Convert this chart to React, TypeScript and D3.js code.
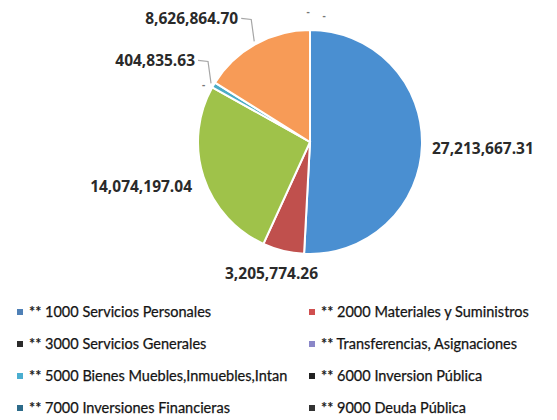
import React from "react";
import * as d3 from "d3";

const categories = [
  "** 1000 Servicios Personales",
  "** 2000 Materiales y Suministros",
  "** 3000 Servicios Generales",
  "** Transferencias, Asignaciones",
  "** 5000 Bienes Muebles,Inmuebles,Intan",
  "** 6000 Inversion Pública",
  "** 7000 Inversiones Financieras",
  "** 9000 Deuda Pública",
];
const values = [27213667.31, 3205774.26, 14074197.04, 0, 404835.63, 8626864.7, 0, 0];
const sliceColors = ["#4a8fd1", "#c0504d", "#9fc24a", "#8064a2", "#4bacc6", "#f79b57", "#2c6d8c", "#333333"];
const legendColors = ["#4f80b6", "#d04f4f", "#2b2b2b", "#8a87c8", "#4aaed0", "#222222", "#2d6b8a", "#333333"];

const W = 557;
const H = 420;
const cx = 310;
const cy = 142;
const R = 112;

// label layout tweaks (not data)
const labelExtra = [10, 24, 10, 10, 0, 0, 8, 8];
const labelNudge: [number, number][] = [
  [0, 3],
  [-6, 0],
  [-2, 7],
  [0, 2],
  [0, 0],
  [0, 0],
  [-2, -11],
  [14, -7],
];

const fmt = (v: number) => (v === 0 ? "-" : d3.format(",.2f")(v));

export default function App() {
  const pie = d3.pie<number>().sort(null).value((d) => d);
  const arcs = pie(values);
  const arc = d3.arc<d3.PieArcDatum<number>>().innerRadius(0).outerRadius(R);

  const pt = (a: number, r: number) => [cx + r * Math.sin(a), cy - r * Math.cos(a)];

  const labels = arcs.map((a, i) => {
    const mid = (a.startAngle + a.endAngle) / 2;
    const v = values[i];
    if (i === 4 || i === 5) {
      const [ex, ey] = pt(mid, R + 3);
      const lx = ex - 16;
      const ly = ey - 23;
      return {
        i,
        x: lx,
        y: ly,
        anchor: "end",
        text: fmt(v),
        leader: [
          [ex, ey],
          [ex - 3, ly + 1],
          [lx + 3, ly],
        ],
      };
    }
    const [x, y] = pt(mid, R + labelExtra[i]);
    let anchor = "middle";
    const s = Math.sin(mid);
    if (v !== 0) {
      if (s > 0.5) anchor = "start";
      else if (s < -0.5) anchor = "end";
    }
    return {
      i,
      x: x + labelNudge[i][0],
      y: y + labelNudge[i][1],
      anchor,
      text: fmt(v),
      leader: null as null | number[][],
    };
  });

  const legendX = [20, 312];
  const legendY = [312, 344, 376, 408];

  return (
    <div style={{ position: "absolute", left: 0, top: 0 }}>
      <svg width={W} height={H} style={{ display: "block", background: "#fff" }}>
        <g transform={`translate(${cx},${cy})`}>
          {arcs.map((a, i) =>
            values[i] > 0 ? (
              <path key={i} d={arc(a) || ""} fill={sliceColors[i]} stroke="#fff" strokeWidth={2} />
            ) : null
          )}
        </g>
        {labels.map((l) =>
          l.leader ? (
            <polyline
              key={"ld" + l.i}
              points={l.leader.map((p) => p.join(",")).join(" ")}
              fill="none"
              stroke="#a6a6a6"
              strokeWidth={1.2}
            />
          ) : null
        )}
        {labels.map((l) => (
          <text
            key={"lb" + l.i}
            x={l.x}
            y={l.y}
            dy="0.35em"
            textAnchor={l.anchor as any}
            fontFamily="'Open Sans', sans-serif"
            fontWeight={700}
            fontSize={values[l.i] === 0 ? 10 : 15.5}
            fill={values[l.i] === 0 ? "#777" : "#2a2a2a"}
          >
            {l.text}
          </text>
        ))}
        {categories.map((c, i) => {
          const col = i % 2;
          const row = Math.floor(i / 2);
          const x = legendX[col];
          const y = legendY[row];
          return (
            <g key={"lg" + i}>
              <rect x={x - 3} y={y - 3} width={6} height={6} fill={legendColors[i]} />
              <text
                x={x + 9}
                y={y}
                dy="0.35em"
                fontFamily="Lato, sans-serif"
                fontSize={14.5}
                fill="#141414"
                stroke="#141414"
                strokeWidth={0.25}
              >
                {c}
              </text>
            </g>
          );
        })}
      </svg>
    </div>
  );
}
